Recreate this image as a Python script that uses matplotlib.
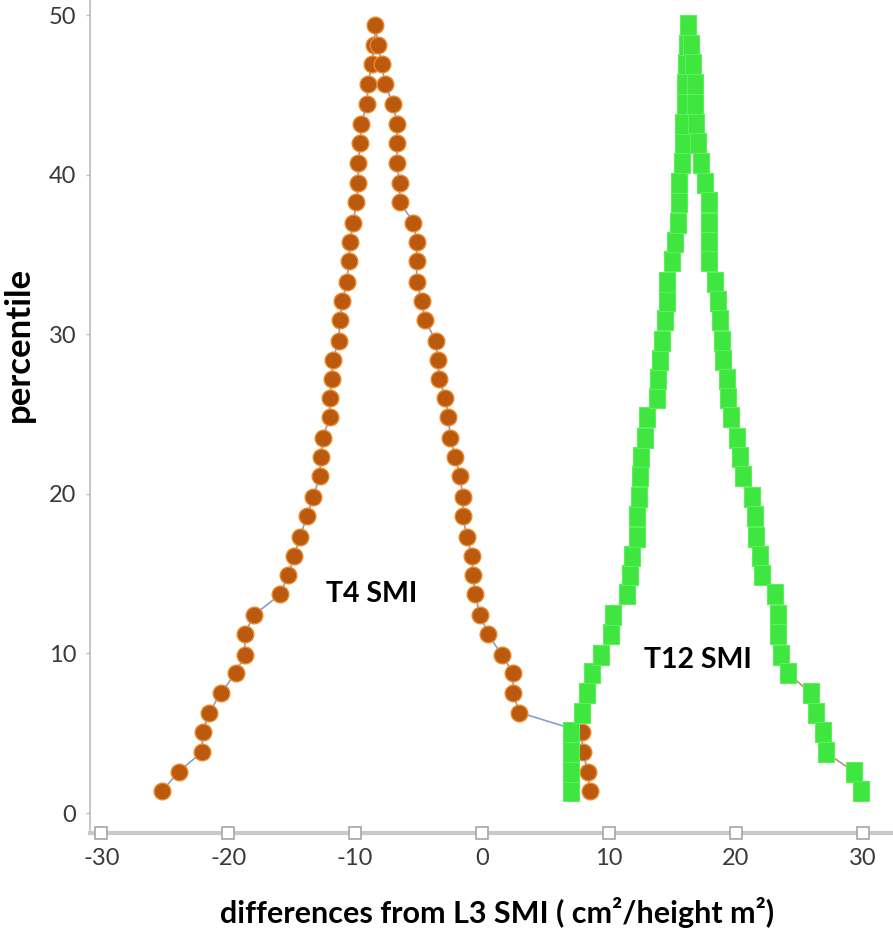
"""Mountain plot of T4 and T12 SMI differences from L3 SMI."""

import matplotlib

matplotlib.use("Agg")
import matplotlib.pyplot as plt
from matplotlib.transforms import blended_transform_factory

# percentile levels (rising side, then falling side)
levels_up = [1.4, 2.6, 3.8, 5.1, 6.3, 7.5, 8.8, 9.9, 11.2, 12.4, 13.7, 14.9, 16.1, 17.3,
             18.6, 19.8, 21.1, 22.3, 23.5, 24.8, 26.0, 27.2, 28.4, 29.6, 30.9, 32.1, 33.3,
             34.6, 35.8, 37.0, 38.3, 39.5, 40.7, 42.0, 43.2, 44.4, 45.7, 46.9, 48.1, 49.4]
levels_down = levels_up[-2::-1]

t4_up = [-25.2, -23.9, -22.1, -22.0, -21.5, -20.6, -19.4, -18.7, -18.7, -18.0, -15.9, -15.3,
         -14.8, -14.35, -13.8, -13.3, -12.8, -12.7, -12.55, -12.0, -12.0, -11.85, -11.75,
         -11.3, -11.2, -11.0, -10.65, -10.5, -10.4, -10.15, -9.9, -9.75, -9.75, -9.6, -9.5,
         -9.1, -8.95, -8.7, -8.5, -8.4]
t4_down = [-8.2, -7.9, -7.65, -7.0, -6.7, -6.7, -6.7, -6.5, -6.5, -5.4, -5.15, -5.15, -5.15,
           -4.75, -4.5, -3.65, -3.5, -3.35, -2.9, -2.65, -2.5, -2.1, -1.75, -1.5, -1.5, -1.2,
           -0.8, -0.7, -0.55, -0.15, 0.5, 1.55, 2.45, 2.45, 2.95, 7.85, 7.95, 8.35, 8.5]

t12_up = [7.0, 7.0, 7.0, 7.0, 7.9, 8.3, 8.65, 9.4, 10.2, 10.3, 11.4, 11.65, 11.8, 12.2, 12.2,
          12.35, 12.45, 12.55, 12.85, 13.0, 13.8, 13.9, 14.05, 14.2, 14.4, 14.55, 14.6, 14.95,
          15.2, 15.45, 15.5, 15.55, 15.75, 15.85, 15.85, 16.0, 16.0, 16.1, 16.15, 16.25]
t12_down = [16.5, 16.65, 16.8, 16.8, 16.9, 17.0, 17.3, 17.55, 17.9, 17.9, 17.9, 17.9, 18.4,
            18.6, 18.75, 18.9, 19.0, 19.3, 19.4, 19.6, 20.1, 20.3, 20.55, 21.3, 21.5, 21.6,
            21.9, 22.05, 23.1, 23.3, 23.35, 23.6, 24.1, 25.9, 26.3, 26.9, 27.1, 29.3, 29.9]

x_ticks = [-30, -20, -10, 0, 10, 20, 30]
y_ticks = [0, 10, 20, 30, 40, 50]

FONT = ["Lato", "DejaVu Sans"]


def main():
    plt.rcParams["font.family"] = FONT

    fig = plt.figure(figsize=(8.93, 9.4), dpi=100)
    ax = fig.add_axes([0.1008, 0.1138, 0.8992, 0.8862])

    rect = [(-0.85, -1), (0.85, -1), (0.85, 1), (-0.85, 1), (-0.85, -1)]

    ax.plot(t4_up + t4_down, levels_up + levels_down, color="#86a2c8", lw=1.2,
            marker="o", markersize=12, markerfacecolor="#bb590e",
            markeredgecolor="#ea8a2e", markeredgewidth=1.0, zorder=2)
    ax.plot(t12_up + t12_down, levels_up + levels_down, color="#c48a8a", lw=1.2,
            marker=rect, markersize=14, markerfacecolor="#3fe63f",
            markeredgecolor="#5cf05c", markeredgewidth=0.8, zorder=3)

    ax.text(-8.7, 13.7, "T4 SMI", fontsize=20.5, fontweight="bold", ha="center", va="center")
    ax.text(17.0, 9.6, "T12 SMI", fontsize=20.5, fontweight="bold", ha="center", va="center")

    ax.set_xlim(-30.9, 32.4)
    ax.set_ylim(-1.25, 50.94)

    for side in ["top", "right"]:
        ax.spines[side].set_visible(False)
    ax.spines["left"].set_color("#bdbdbd")
    ax.spines["left"].set_linewidth(1.2)
    ax.spines["bottom"].set_color("#c9c9c9")
    ax.spines["bottom"].set_linewidth(3)

    ax.set_xticks(x_ticks, [str(v) for v in x_ticks])
    ax.set_yticks(y_ticks, [str(v) for v in y_ticks])
    ax.tick_params(axis="x", length=0, pad=11, labelsize=17, labelcolor="#3a3a3a")
    ax.tick_params(axis="y", length=3, width=1, color="#bdbdbd", pad=7, labelsize=17,
                   labelcolor="#3a3a3a")

    # hollow square tick markers sitting on the x axis line
    trans = blended_transform_factory(ax.transData, ax.transAxes)
    ax.plot(x_ticks, [0] * len(x_ticks), transform=trans, ls="none", marker="s",
            markersize=8, markerfacecolor="white", markeredgecolor="#a6a6a6",
            markeredgewidth=1.2, clip_on=False, zorder=5)

    fig.text(497 / 893, 1 - 912 / 940, "differences from L3 SMI ( cm²/height m²)",
             fontsize=22, fontweight="bold", ha="center", va="center")
    fig.text(19 / 893, 1 - 344 / 940, "percentile", fontsize=25, fontweight="bold",
             rotation=90, ha="center", va="center")

    fig.savefig("out.png", dpi=100)
    plt.close(fig)


if __name__ == "__main__":
    main()
